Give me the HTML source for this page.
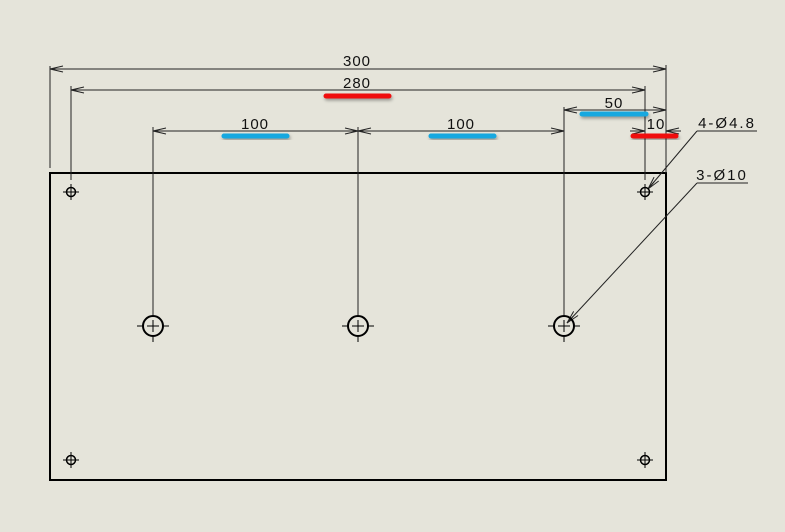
<!DOCTYPE html>
<html><head><style>body{margin:0;background:#e5e4da}svg{display:block}</style></head><body>
<svg width="785" height="532" viewBox="0 0 785 532" xmlns="http://www.w3.org/2000/svg">
<defs>
<marker id="a" markerWidth="30" markerHeight="10" refX="15" refY="5" orient="auto-start-reverse" markerUnits="userSpaceOnUse" viewBox="0 0 30 10"><path d="M2,2 L15,5 L2,8 M6,5 L15,5" fill="none" stroke="#222" stroke-width="1"/></marker>
<filter id="sh"><feDropShadow dx="1" dy="2" stdDeviation="1.5" flood-color="#000" flood-opacity="0.35"/></filter>
</defs>
<rect width="785" height="532" fill="#e5e4da"/>
<g stroke="#222" fill="none" stroke-width="1">
<rect x="50" y="173" width="616" height="307" stroke="#000" stroke-width="2"/>
<line x1="50" y1="66" x2="50" y2="168"/>
<line x1="666" y1="65" x2="666" y2="173"/>
<line x1="71" y1="86" x2="71" y2="180"/>
<line x1="645" y1="86" x2="645" y2="180"/>
<line x1="153" y1="127" x2="153" y2="315"/>
<line x1="358" y1="127" x2="358" y2="315"/>
<line x1="564" y1="107" x2="564" y2="315"/>
<line x1="50" y1="69" x2="666" y2="69" marker-start="url(#a)" marker-end="url(#a)"/>
<line x1="71" y1="90" x2="645" y2="90" marker-start="url(#a)" marker-end="url(#a)"/>
<line x1="153" y1="131" x2="358" y2="131" marker-start="url(#a)" marker-end="url(#a)"/>
<line x1="358" y1="131" x2="564" y2="131" marker-start="url(#a)" marker-end="url(#a)"/>
<line x1="564" y1="110" x2="666" y2="110" marker-start="url(#a)" marker-end="url(#a)"/>
<line x1="630" y1="131" x2="645" y2="131" marker-end="url(#a)"/>
<line x1="681" y1="131" x2="666" y2="131" marker-end="url(#a)"/>
<line x1="697" y1="131" x2="757" y2="131"/>
<line x1="697" y1="131" x2="648" y2="189" marker-end="url(#a)"/>
<line x1="697" y1="183" x2="748" y2="183"/>
<line x1="697" y1="183" x2="567" y2="323" marker-end="url(#a)"/>
<g stroke="#000">
<circle cx="71" cy="192" r="4.5" stroke-width="1.5"/><path d="M63,192h16M71,184v16"/>
<circle cx="645" cy="192" r="4.5" stroke-width="1.5"/><path d="M637,192h16M645,184v16"/>
<circle cx="71" cy="460" r="4.5" stroke-width="1.5"/><path d="M63,460h16M71,452v16"/>
<circle cx="645" cy="460" r="4.5" stroke-width="1.5"/><path d="M637,460h16M645,452v16"/>
<circle cx="153" cy="326" r="10" stroke-width="2"/><path d="M137,326h7M162,326h7M153,337v5M147,326h12M153,320v12"/>
<circle cx="358" cy="326" r="10" stroke-width="2"/><path d="M342,326h7M367,326h7M358,337v5M352,326h12M358,320v12"/>
<circle cx="564" cy="326" r="10" stroke-width="2"/><path d="M548,326h7M573,326h7M564,337v5M558,326h12M564,320v12"/>
</g>
</g>
<g font-family="Liberation Sans, sans-serif" font-size="15" fill="#111" text-anchor="middle" letter-spacing="1">
<text x="357" y="66">300</text>
<text x="357" y="88">280</text>
<text x="255" y="129">100</text>
<text x="461" y="129">100</text>
<text x="614" y="108">50</text>
<text x="656" y="129">10</text>
<text x="727" y="128" letter-spacing="2">4-Ø4.8</text>
<text x="722" y="180" letter-spacing="2">3-Ø10</text>
</g>
<g stroke-linecap="round" stroke-width="5" filter="url(#sh)">
<line x1="326" y1="96" x2="389" y2="96" stroke="#f01010"/>
<line x1="224" y1="136" x2="287" y2="136" stroke="#12a8e0"/>
<line x1="431" y1="136" x2="494" y2="136" stroke="#12a8e0"/>
<line x1="582" y1="114" x2="646" y2="114" stroke="#12a8e0"/>
<line x1="633" y1="136" x2="676" y2="136" stroke="#f01010"/>
</g>
</svg>
</body></html>
